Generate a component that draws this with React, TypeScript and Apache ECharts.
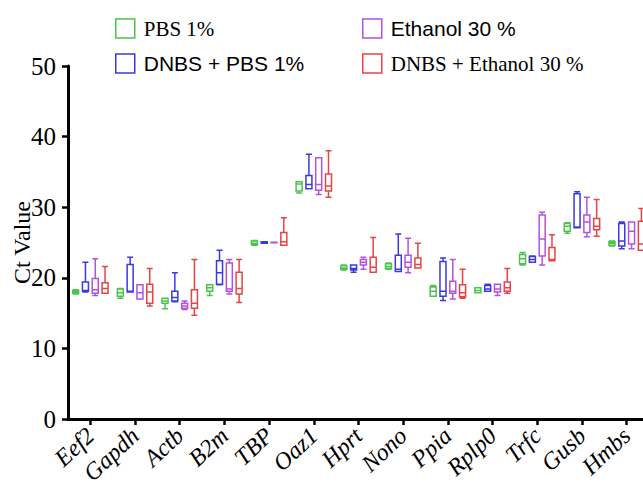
import React, { useEffect, useRef } from "react";
import * as echarts from "echarts";

const categories = ["Eef2", "Gapdh", "Actb", "B2m", "TBP", "Oaz1", "Hprt", "Nono", "Ppia", "Rplp0", "Trfc", "Gusb", "Hmbs"];

const seriesNames = ["PBS 1%", "DNBS + PBS 1%", "Ethanol 30 %", "DNBS + Ethanol 30 %"];

// [min, Q1, median, Q3, max]
const pbs = [
  [17.7, 17.8, 18.0, 18.2, 18.3],
  [17.1, 17.4, 17.9, 18.4, 18.5],
  [15.6, 16.4, 16.7, 17.1, 17.1],
  [17.5, 18.1, 18.6, 19.0, 19.0],
  [24.6, 24.7, 24.9, 25.2, 25.3],
  [32.0, 32.3, 33.3, 33.6, 33.6],
  [21.1, 21.2, 21.4, 21.7, 21.8],
  [21.2, 21.3, 21.6, 22.0, 22.1],
  [17.4, 17.4, 18.1, 18.7, 18.9],
  [17.9, 17.9, 18.2, 18.6, 18.6],
  [21.8, 22.0, 22.7, 23.3, 23.6],
  [26.3, 26.6, 27.3, 27.7, 27.8],
  [24.5, 24.6, 24.9, 25.1, 25.2],
];

const dnbsPbs = [
  [18.0, 18.1, 18.2, 19.4, 22.2],
  [18.0, 18.0, 18.1, 21.9, 22.9],
  [16.6, 16.7, 17.2, 18.1, 20.7],
  [19.0, 19.1, 20.7, 22.4, 23.9],
  [24.9, 24.9, 25.0, 25.1, 25.1],
  [32.6, 32.6, 33.2, 34.5, 37.5],
  [20.8, 21.1, 21.3, 21.8, 21.8],
  [20.9, 20.9, 21.2, 23.2, 26.2],
  [16.8, 17.4, 18.1, 22.3, 22.8],
  [18.1, 18.1, 18.4, 18.9, 19.1],
  [22.2, 22.2, 22.6, 23.0, 23.1],
  [27.1, 27.1, 27.2, 31.9, 32.2],
  [24.1, 24.5, 25.2, 27.7, 27.9],
];

const ethanol = [
  [17.5, 17.8, 18.3, 19.9, 22.7],
  [17.0, 17.0, 17.9, 19.0, 19.0],
  [15.5, 15.7, 16.0, 16.4, 16.7],
  [17.7, 18.1, 18.4, 22.1, 22.6],
  [24.95, 24.95, 25.0, 25.05, 25.05],
  [31.8, 32.4, 33.2, 37.0, 37.0],
  [21.2, 21.8, 22.2, 22.6, 22.9],
  [20.7, 21.5, 22.2, 23.2, 25.6],
  [17.0, 17.8, 18.1, 19.5, 22.6],
  [17.5, 18.0, 18.4, 19.1, 19.1],
  [21.8, 23.1, 25.5, 28.9, 29.3],
  [25.8, 26.4, 27.9, 28.9, 31.4],
  [24.1, 24.8, 26.6, 27.9, 27.9],
];

const dnbsEthanol = [
  [17.8, 17.8, 18.5, 19.3, 21.6],
  [16.0, 16.4, 18.0, 19.1, 21.3],
  [14.7, 15.7, 16.4, 18.3, 22.6],
  [16.5, 17.7, 18.5, 20.8, 22.6],
  [24.6, 24.6, 25.1, 26.4, 28.5],
  [31.4, 32.3, 33.0, 34.7, 38.0],
  [20.8, 20.8, 21.5, 22.9, 25.7],
  [21.4, 21.4, 21.9, 22.8, 24.9],
  [17.1, 17.3, 17.9, 19.0, 21.2],
  [17.8, 18.1, 18.6, 19.4, 21.3],
  [22.4, 22.5, 22.6, 24.3, 26.1],
  [25.9, 26.8, 27.3, 28.4, 31.1],
  [23.9, 23.9, 24.8, 28.0, 29.8],
];

const allData = [pbs, dnbsPbs, ethanol, dnbsEthanol];
const colors = ["#4cc44c", "#3a3ae0", "#b452e0", "#e84444"];
const offsets = [-14.7, -4.9, 4.9, 14.7];

const serif = "'Liberation Serif', 'Times New Roman', serif";
const sans = "'Liberation Sans', Arial, sans-serif";

export default function App() {
  const ref = useRef<HTMLDivElement>(null);

  useEffect(() => {
    if (!ref.current) return;
    const chart = echarts.init(ref.current, null, { renderer: "svg" });

    const gridLeft = 68;
    const gridWidth = 581;
    const gridTop = 66;
    const gridHeight = 353;

    const grids = [
      { left: gridLeft, top: gridTop, width: gridWidth, height: gridHeight, outerBoundsMode: "none", containLabel: false },
      ...offsets.map((o) => ({
        left: gridLeft + o,
        top: gridTop,
        width: gridWidth,
        height: gridHeight,
        outerBoundsMode: "none",
        containLabel: false,
      })),
    ];

    const xAxes = grids.map((g, i) => ({
      type: "category",
      gridIndex: i,
      data: categories,
      show: i === 0,
      boundaryGap: true,
      axisLine: { show: true, lineStyle: { color: "#000", width: 3 } },
      axisTick: { show: true, alignWithLabel: true, length: 6, lineStyle: { color: "#000", width: 2.5 } },
      axisLabel: {
        rotate: 43,
        fontFamily: serif,
        fontStyle: "italic",
        fontSize: 24,
        color: "#000",
        margin: 13,
        interval: 0,
      },
      splitLine: { show: false },
    }));

    const yAxes = grids.map((g, i) => ({
      type: "value",
      gridIndex: i,
      min: 0,
      max: 50,
      interval: 10,
      show: i === 0,
      name: i === 0 ? "Ct Value" : "",
      nameLocation: "middle",
      nameGap: 34,
      nameMoveOverlap: false,
      nameTextStyle: { fontFamily: serif, fontSize: 24, color: "#000" },
      axisLine: { show: true, lineStyle: { color: "#000", width: 3 } },
      axisTick: { show: true, length: 6, lineStyle: { color: "#000", width: 2.5 } },
      axisLabel: { fontFamily: serif, fontSize: 25, color: "#000", margin: 12 },
      splitLine: { show: false },
    }));

    const series = allData.map((d, i) => ({
      name: seriesNames[i],
      type: "boxplot",
      xAxisIndex: i + 1,
      yAxisIndex: i + 1,
      boxWidth: [6, 6],
      data: d,
      itemStyle: { color: "transparent", borderColor: colors[i], borderWidth: 1.5 },
      emphasis: { disabled: true },
    }));

    const legendItem = (i: number, font: string) => ({
      name: seriesNames[i],
      textStyle: { fontFamily: font },
      itemStyle: { color: "transparent", borderColor: colors[i], borderWidth: 1.5 },
    });

    chart.setOption({
      animation: false,
      backgroundColor: "#fff",
      grid: grids,
      xAxis: xAxes,
      yAxis: yAxes,
      legend: [
        {
          left: 110,
          top: 13,
          orient: "vertical",
          icon: "rect",
          itemWidth: 19,
          itemHeight: 19,
          itemGap: 14,
          textStyle: { fontSize: 21, color: "#000", padding: [0, 0, 0, 4] },
          data: [legendItem(0, serif), legendItem(1, sans)],
        },
        {
          left: 357,
          top: 13,
          orient: "vertical",
          icon: "rect",
          itemWidth: 19,
          itemHeight: 19,
          itemGap: 14,
          textStyle: { fontSize: 21, color: "#000", padding: [0, 0, 0, 4] },
          data: [legendItem(2, sans), legendItem(3, serif)],
        },
      ],
      series,
    } as any);

    return () => chart.dispose();
  }, []);

  return (
    <div
      ref={ref}
      style={{ position: "absolute", left: 0, top: 0, width: 643, height: 487 }}
    />
  );
}
